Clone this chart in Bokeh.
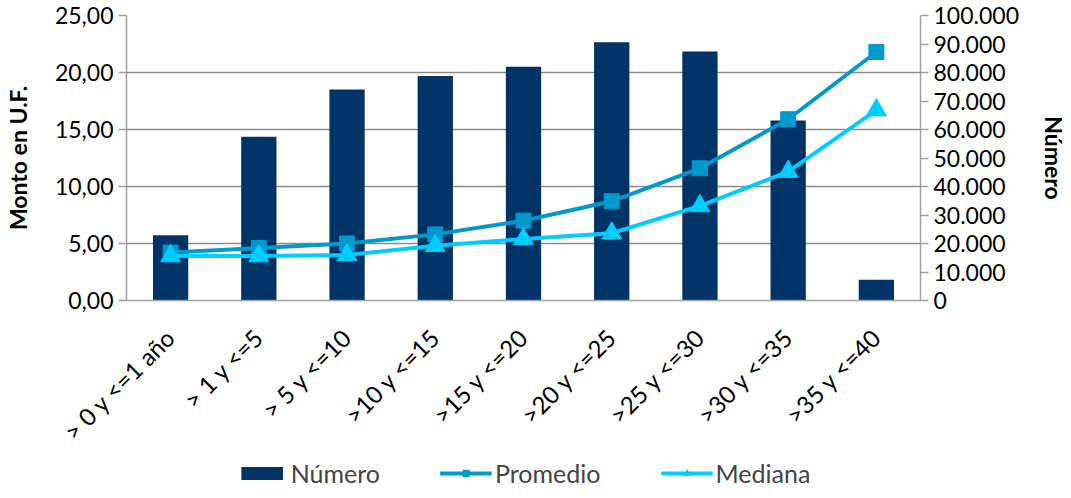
import math
from bokeh.plotting import figure
from bokeh.models import (Range1d, LinearAxis, Legend, LegendItem, FixedTicker,
                          CustomJSTickFormatter, ColumnDataSource, FactorRange)
from bokeh.embed import file_html
from bokeh.resources import INLINE

categories = ["> 0 y <=1 año", "> 1 y <=5", "> 5 y <=10", ">10 y <=15", ">15 y <=20",
              ">20 y <=25", ">25 y <=30", ">30 y <=35", ">35 y <=40"]
numero = [22900, 57500, 74000, 78800, 82000, 90600, 87400, 63200, 7300]
promedio = [4.2, 4.6, 5.0, 5.8, 7.0, 8.7, 11.6, 15.9, 21.8]
mediana = [3.9, 3.9, 4.0, 4.8, 5.4, 5.9, 8.3, 11.3, 16.7]
left_ticks = [0, 5, 10, 15, 20, 25]
right_ticks = [0, 10000, 20000, 30000, 40000, 50000, 60000, 70000, 80000, 90000, 100000]

FONT = "Lato"
FS = "23px"
BAR = "#003366"
PROM = "#0099CC"
MED = "#00CCFF"
GRID = "#8C8C8C"

src = ColumnDataSource(dict(cat=categories, numero=numero, promedio=promedio, mediana=mediana))

p = figure(width=1055, height=482, x_range=FactorRange(*categories), y_range=Range1d(0, 25),
           output_backend="svg", toolbar_location=None, sizing_mode="fixed",
           min_border_left=126, min_border_right=135, min_border_top=15, min_border_bottom=0)
p.frame_width = 794
p.frame_height = 285
p.outline_line_color = None
p.extra_y_ranges = {"num": Range1d(0, 100000)}

bars = p.vbar(x="cat", top="numero", width=0.40, source=src, y_range_name="num",
              fill_color=BAR, line_color=None)
l1 = p.line(x="cat", y="promedio", source=src, line_color=PROM, line_width=4)
s1 = p.scatter(x="cat", y="promedio", source=src, marker="square", size=15,
               fill_color=PROM, line_color=PROM)
l2 = p.line(x="cat", y="mediana", source=src, line_color=MED, line_width=4)
s2 = p.scatter(x="cat", y="mediana", source=src, marker="triangle", size=20,
               fill_color=MED, line_color=MED)

# grid
p.xgrid.grid_line_color = None
p.ygrid.grid_line_color = GRID
p.ygrid.grid_line_width = 1.5
p.ygrid.ticker = FixedTicker(ticks=left_ticks)

# left axis
ya = p.yaxis[0]
ya.ticker = FixedTicker(ticks=left_ticks)
ya.formatter = CustomJSTickFormatter(code="return tick.toFixed(2).replace('.', ',');")
ya.axis_label = "Monto en U.F."
ya.axis_label_text_font = FONT
ya.axis_label_text_font_style = "bold"
ya.axis_label_text_font_size = FS
ya.axis_label_text_color = "#000000"
ya.axis_label_standoff = 20
ya.major_label_text_font = FONT
ya.major_label_text_font_size = FS
ya.major_label_text_color = "#000000"
ya.axis_line_color = "#A0A0A0"
ya.axis_line_width = 1.5
ya.major_tick_line_color = "#A0A0A0"
ya.major_tick_line_width = 1.5
ya.major_tick_out = 8
ya.major_tick_in = 0
ya.minor_tick_line_color = None

# right axis
ra = LinearAxis(y_range_name="num", ticker=FixedTicker(ticks=right_ticks),
                formatter=CustomJSTickFormatter(code="return tick.toString().replace(/\\B(?=(\\d{3})+(?!\\d))/g, '.');"))
ra.axis_label = "Número"
ra.axis_label_text_font = FONT
ra.axis_label_text_font_style = "bold"
ra.axis_label_text_font_size = FS
ra.axis_label_text_color = "#000000"
ra.axis_label_standoff = 18
ra.major_label_text_font = FONT
ra.major_label_text_font_size = FS
ra.major_label_text_color = "#000000"
ra.axis_line_color = "#A0A0A0"
ra.axis_line_width = 1.5
ra.major_tick_line_color = "#A0A0A0"
ra.major_tick_line_width = 1.5
ra.major_tick_out = 8
ra.major_tick_in = 0
ra.minor_tick_line_color = None
p.add_layout(ra, "right")

# x axis
xa = p.xaxis[0]
xa.major_label_orientation = math.pi / 4
xa.major_label_text_font = FONT
xa.major_label_text_font_size = "24px"
xa.major_label_text_color = "#000000"
xa.axis_line_color = "#A0A0A0"
xa.axis_line_width = 1.5
xa.major_tick_line_color = None
xa.minor_tick_line_color = None
xa.major_label_standoff = 26

legend = Legend(items=[LegendItem(label="Número", renderers=[bars]),
                       LegendItem(label="Promedio", renderers=[l1, s1]),
                       LegendItem(label="Mediana", renderers=[l2, s2])],
                orientation="horizontal", location="center",
                label_text_font=FONT, label_text_font_size="25px",
                glyph_width=52, glyph_height=16, spacing=60, label_standoff=3,
                border_line_color=None, background_fill_alpha=0, margin=0, padding=8)
p.add_layout(legend, "below")

open("out.html", "w").write(file_html(p, INLINE))
